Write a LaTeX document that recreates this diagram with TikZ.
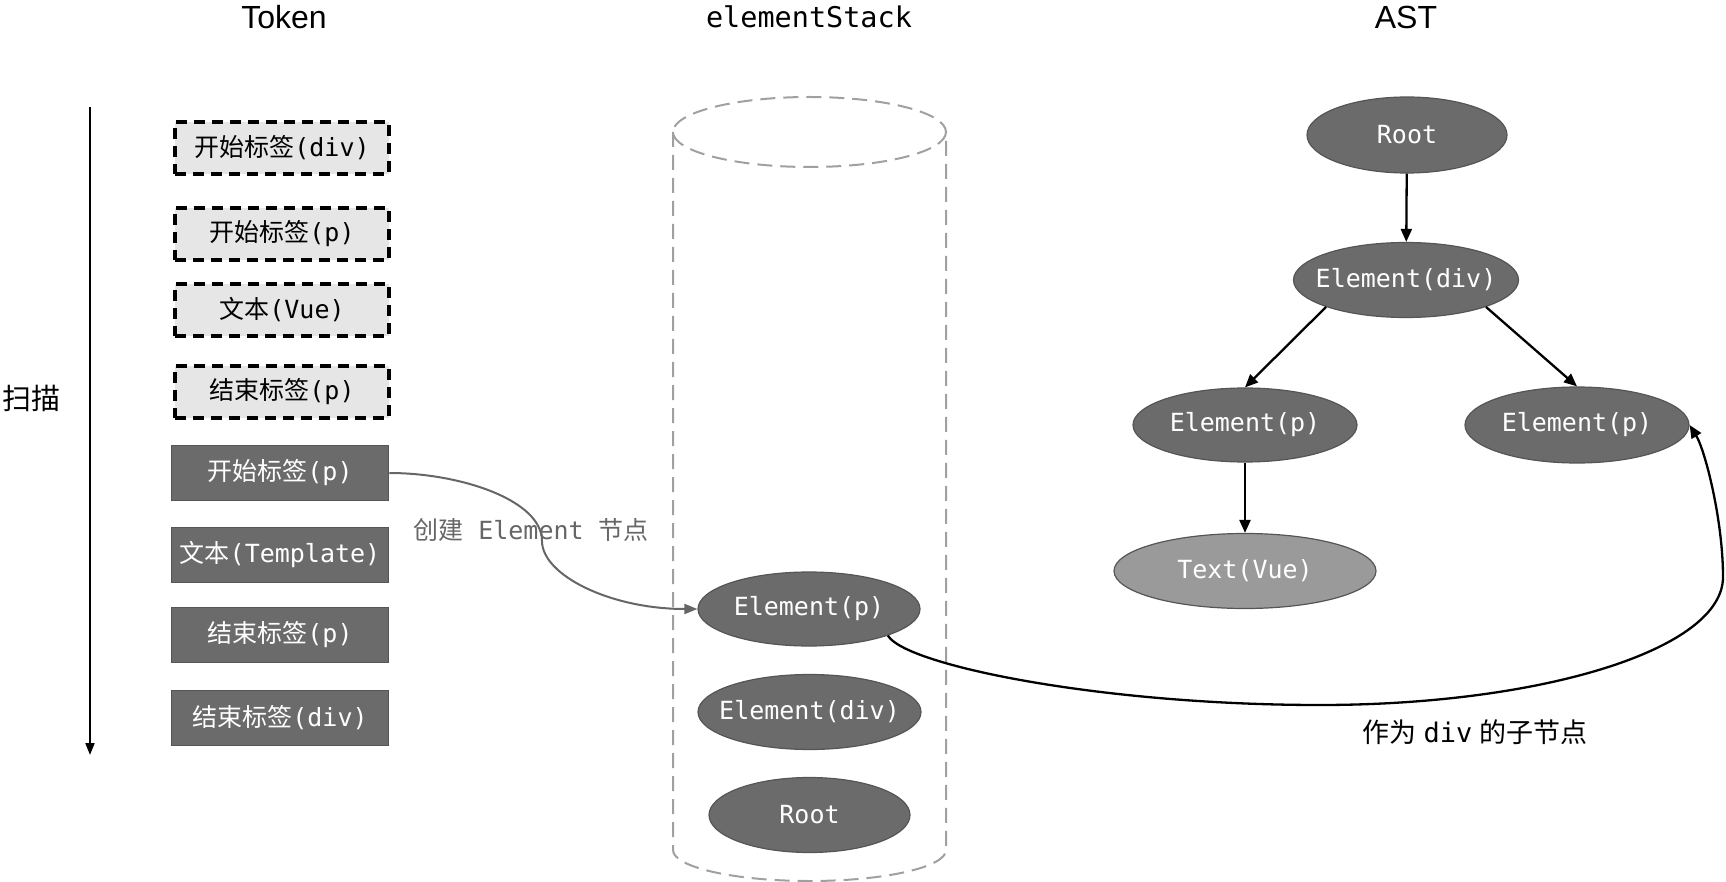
\documentclass[tikz,border=0pt]{standalone}
\usepackage{fontspec}
\setmainfont{Liberation Sans}
\newfontfamily\cjk{Noto Sans CJK SC}
\newfontfamily\mono{DejaVu Sans Mono}
\usetikzlibrary{shapes.geometric,arrows.meta}
\newcommand\zw[1]{\makebox[0pt][c]{#1}}
\definecolor{nodedark}{HTML}{6B6B6B}
\definecolor{edgegray}{HTML}{555555}
\definecolor{vuegray}{HTML}{9A9A9A}
\definecolor{boxlight}{HTML}{E6E6E6}
\definecolor{cylgray}{HTML}{A0A0A0}
\definecolor{curvegray}{HTML}{666666}
\begin{document}
\begin{tikzpicture}[x=1pt,y=-1pt,
  txt/.style={font=\mono\fontsize{25}{30}\selectfont},
  tokd/.style={txt, draw=black, line width=3.2pt, dash pattern=on 11pt off 7pt, fill=boxlight,
    minimum width=214pt, minimum height=52pt, inner sep=0pt},
  toks/.style={txt, draw=edgegray, line width=1.5pt, fill=nodedark, text=white,
    minimum width=217pt, minimum height=55pt, inner sep=0pt},
  ell/.style={txt, ellipse, draw=edgegray, line width=1.2pt, fill=nodedark, text=white, inner sep=0pt},
  title/.style={font=\fontsize{32}{38}\selectfont},
  arr/.style={line width=2.3pt, -{Triangle[length=13pt,width=11pt]}},
  cyl/.style={draw=cylgray, line width=2pt, dash pattern=on 15pt off 8pt}
]
\useasboundingbox (0,0) rectangle (1726,882);

% titles
\node[title] (tTok) at (284,17) {Token};
\node[font=\mono\fontsize{28.5}{34}\selectfont] (tStack) at (809,17) {elementStack};
\node[title] (tAst) at (1406,17) {AST};

% scan arrow
\coordinate (scanTop) at (90,107);
\coordinate (scanBot) at (90,755);
\draw[line width=2pt, -{Triangle[length=12pt,width=9pt]}] (scanTop) -- (scanBot);
\node[font=\cjk\fontsize{29}{34}\selectfont] (scan) at (31,398) {扫描};

% tokens
\node[tokd] (k1) at (282,148) {{\cjk 开始标签}(div)};
\node[tokd] (k2) at (282,234) {{\cjk 开始标签}(p)};
\node[tokd] (k3) at (282,310) {{\cjk 文本}(Vue)};
\node[tokd] (k4) at (282,392) {{\cjk 结束标签}(p)};
\node[toks] (k5) at (280,473) {{\cjk 开始标签}(p)};
\node[toks] (k6) at (280,555) {{\cjk 文本}(Template)};
\node[toks] (k7) at (280,635) {{\cjk 结束标签}(p)};
\node[toks] (k8) at (280,718) {{\cjk 结束标签}(div)};

% cylinder (element stack)
\draw[cyl] (809.5,132) ellipse [x radius=136.5, y radius=35];
\draw[cyl] (673,132) -- (673,850)
  .. controls (673,867.1) and (734.1,881) .. (809.5,881)
  .. controls (884.9,881) and (946,867.1) .. (946,850) -- (946,132);

\node[ell, minimum width=222pt, minimum height=74pt] (sP) at (809,609) {\zw{Element(p)}};
\node[ell, minimum width=223pt, minimum height=75pt] (sDiv) at (809.5,712) {\zw{Element(div)}};
\node[ell, minimum width=201pt, minimum height=75pt] (sRoot) at (809.5,815) {\zw{Root}};

% AST
\node[ell, minimum width=200pt, minimum height=76pt] (aRoot) at (1407,135) {\zw{Root}};
\node[ell, minimum width=225pt, minimum height=75pt] (aDiv) at (1406,280) {\zw{Element(div)}};
\node[ell, minimum width=224pt, minimum height=74pt] (aP1) at (1245,425) {\zw{Element(p)}};
\node[ell, minimum width=224pt, minimum height=76pt] (aP2) at (1577,425) {\zw{Element(p)}};
\node[ell, fill=vuegray, minimum width=262pt, minimum height=75pt] (aText) at (1245,571) {\zw{Text(Vue)}};

\draw[arr] (aRoot) -- (aDiv);
\draw[arr] (aDiv.south west) -- (aP1.north);
\draw[arr] (aDiv.south east) -- (aP2.north);
\draw[arr] (aP1) -- (aText);

% create element curve
\coordinate (gMid) at (542,541);
\draw[line width=2pt, draw=curvegray, -{Triangle[length=13pt,width=10pt]}, curvegray]
  (k5.east) .. controls (460,473) and (542,500) .. (gMid)
  .. controls (542,575) and (610,609) .. (sP.west);
\node[txt, text=curvegray] (lblCreate) at (531,530) {{\cjk 创建} Element {\cjk 节点}};

% child curve
\coordinate (cLow) at (1320,705);
\coordinate (cRight) at (1723,577);
\draw[line width=2.3pt, -{Triangle[length=13pt,width=11pt]}]
  (sP.south east) .. controls (905,665) and (1100,705) .. (cLow)
  .. controls (1540,705) and (1723,650) .. (cRight)
  .. controls (1723,520) and (1705,450) .. (aP2.east);
\node[font=\fontsize{27}{32}\selectfont] (lblChild) at (1475,732) {{\cjk 作为} {\mono div} {\cjk 的子节点}};
\end{tikzpicture}
\end{document}
